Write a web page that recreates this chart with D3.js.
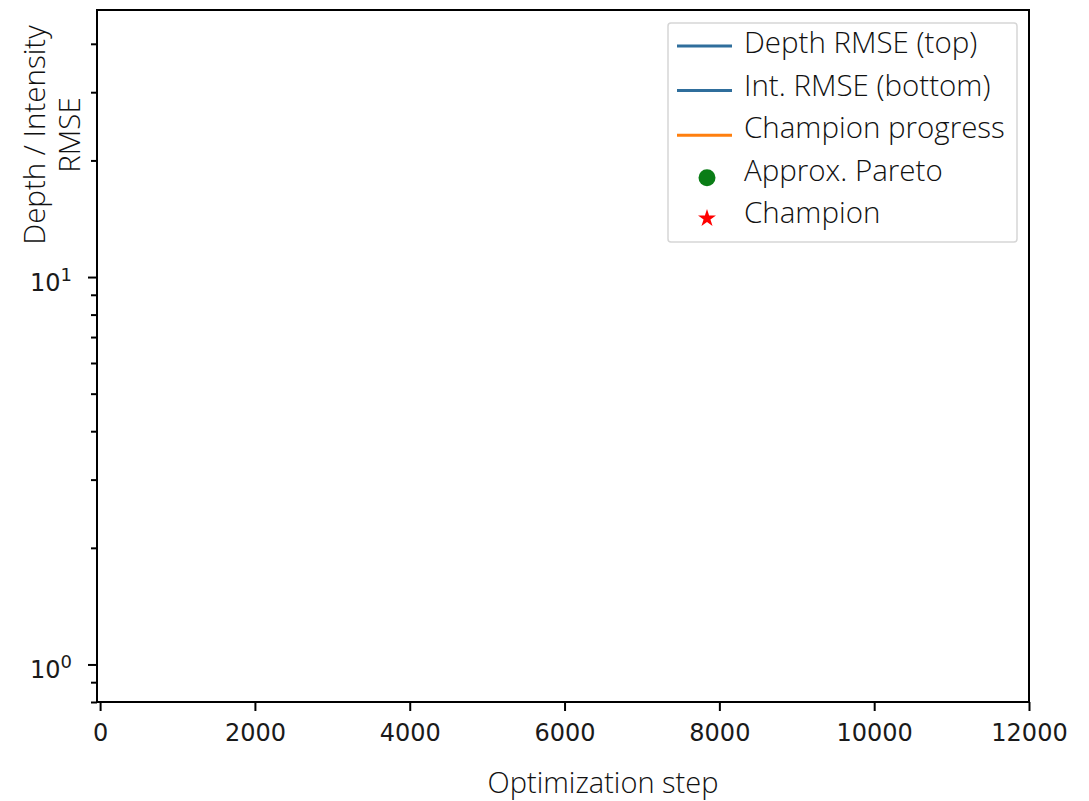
<!DOCTYPE html>
<html>
<head>
<meta charset="utf-8">
<script src="https://cdn.jsdelivr.net/npm/d3@7"></script>
<style>
  body { margin: 0; background: #fff; }
  .axis text { font-family: "DejaVu Sans", sans-serif; font-size: 24px; fill: #1a1a1a; }
  .axis path, .axis line { stroke: #000; stroke-width: 2px; }
  .lbl { font-family: "Open Sans", "Noto Sans", sans-serif; font-weight: 300; font-size: 29.5px; fill: #111; }
</style>
</head>
<body>
<div id="chart"></div>
<script>
// axis ranges and ticks
var xDomain = [-40, 12000];
var yDomain = [0.8, 48.9];
var xTicks = [0, 2000, 4000, 6000, 8000, 10000, 12000];
var yMajor = [1, 10];
var yMinor = [0.8, 0.9, 2, 3, 4, 5, 6, 7, 8, 9, 20, 30, 40];

// legend entries
var legendLabels = ["Depth RMSE (top)", "Int. RMSE (bottom)", "Champion progress", "Approx. Pareto", "Champion"];
var legendKinds  = ["line", "line", "line", "dot", "star"];
var legendColors = ["#2f6e9c", "#2f6e9c", "#ff7f0e", "#0a7d16", "#ff0000"];

var W = 1089, H = 801;
var m = {left: 97, top: 10, right: 1089 - 1029, bottom: 801 - 702};
var iw = W - m.left - m.right, ih = H - m.top - m.bottom;

var svg = d3.select("#chart").append("svg")
    .attr("width", W).attr("height", H);

var x = d3.scaleLinear().domain(xDomain).range([m.left, m.left + iw]);
var y = d3.scaleLog().domain(yDomain).range([m.top + ih, m.top]);

// frame
svg.append("rect")
    .attr("x", m.left).attr("y", m.top)
    .attr("width", iw).attr("height", ih)
    .attr("fill", "none").attr("stroke", "#000").attr("stroke-width", 2);

// x axis
var gx = svg.append("g").attr("class", "axis")
    .attr("transform", "translate(0," + (m.top + ih) + ")")
    .call(d3.axisBottom(x).tickValues(xTicks).tickSize(9).tickPadding(13).tickFormat(d3.format("d")));
gx.select(".domain").remove();

// y minor ticks
var gym = svg.append("g").attr("class", "axis")
    .attr("transform", "translate(" + m.left + ",0)")
    .call(d3.axisLeft(y).tickValues(yMinor).tickSize(6).tickFormat(""));
gym.select(".domain").remove();

// y major ticks with superscript labels
var gy = svg.append("g").attr("class", "axis")
    .attr("transform", "translate(" + m.left + ",0)")
    .call(d3.axisLeft(y).tickValues(yMajor).tickSize(9).tickPadding(16).tickFormat(""));
gy.select(".domain").remove();
gy.selectAll(".tick text").each(function(d) {
  var t = d3.select(this).attr("dy", "13px");
  t.append("tspan").text("10");
  t.append("tspan").attr("font-size", "18px").attr("dy", "-10px").text(Math.round(Math.log10(d)));
});

// axis titles
svg.append("text").attr("class", "lbl")
    .attr("x", 603).attr("y", 793).attr("text-anchor", "middle")
    .style("font-size", "29px")
    .text("Optimization step");

var yl = svg.append("text").attr("class", "lbl")
    .attr("transform", "translate(45,135) rotate(-90)")
    .attr("text-anchor", "middle");
yl.append("tspan").attr("x", 0).attr("y", 0).text("Depth / Intensity");
yl.append("tspan").attr("x", 0).attr("y", 35).text("RMSE");

// legend
var lg = svg.append("g").attr("transform", "translate(668,23)");
lg.append("rect")
    .attr("width", 349).attr("height", 219).attr("rx", 3)
    .attr("fill", "#fff").attr("fill-opacity", 0.8)
    .attr("stroke", "#d6d6d6").attr("stroke-width", 1.5);

var rows = lg.selectAll(".row").data(legendLabels).enter().append("g")
    .attr("transform", function(d, i) { return "translate(0," + (19 + i * 42.6) + ")"; });

rows.each(function(d, i) {
  var g = d3.select(this);
  var kind = legendKinds[i], col = legendColors[i];
  if (kind === "line") {
    g.append("line").attr("x1", 9).attr("x2", 64).attr("y1", 4 + i * 2).attr("y2", 4 + i * 2)
      .attr("stroke", col).attr("stroke-width", 3);
  } else if (kind === "dot") {
    g.append("circle").attr("cx", 39).attr("cy", 8).attr("r", 8.5).attr("fill", col);
  } else {
    g.append("path").attr("d", d3.symbol(d3.symbolStar, 100)())
      .attr("transform", "translate(39,6)").attr("fill", col);
  }
  g.append("text").attr("class", "lbl")
    .attr("x", 76).attr("y", 11).text(d);
});
</script>
</body>
</html>
